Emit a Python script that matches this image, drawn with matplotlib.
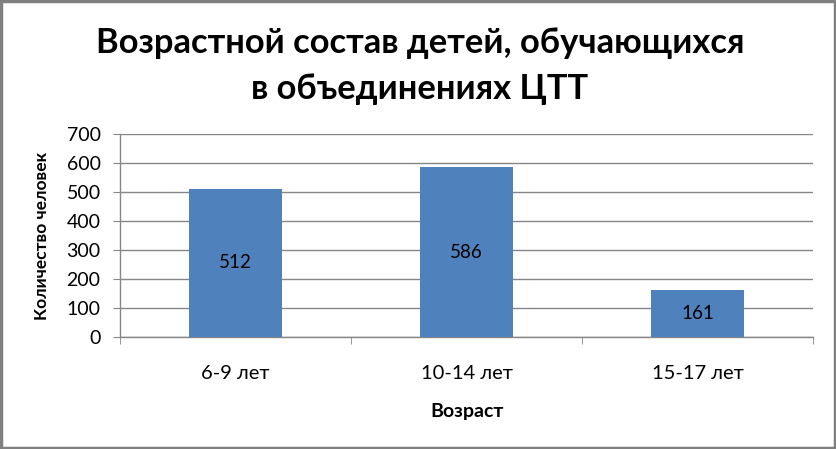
import matplotlib
matplotlib.use("Agg")
import matplotlib.pyplot as plt
from matplotlib.patches import Rectangle

categories = ["6-9 лет", "10-14 лет", "15-17 лет"]
values = [512, 586, 161]
yticks = [0, 100, 200, 300, 400, 500, 600, 700]
title = "Возрастной состав детей, обучающихся\nв объединениях ЦТТ"

plt.rcParams['font.family'] = ['Lato', 'DejaVu Sans']

W, H = 837, 449
fig = plt.figure(figsize=(W / 100, H / 100), dpi=100)
fig.patch.set_facecolor('white')

ax = fig.add_axes([120 / W, 1 - 337 / H, (813 - 120) / W, (337 - 134) / H])
x = list(range(len(categories)))
bars = ax.bar(x, values, width=0.40, color='#4F81BD', zorder=3)
ax.set_xlim(-0.5, len(categories) - 0.5)
ax.set_ylim(0, 700)
ax.set_yticks(yticks)
ax.set_yticklabels([str(v) for v in yticks], fontsize=14)
ax.set_xticks(x)
ax.set_xticklabels(categories, fontsize=14.5)
ax.tick_params(axis='x', length=0, pad=20)
ax.tick_params(axis='y', length=5, color='#868686', pad=9)
# category boundary ticks
ax.set_xticks([-0.5, 0.5, 1.5, 2.5], minor=True)
ax.tick_params(axis='x', which='minor', length=5, color='#868686')
ax.grid(axis='y', color='#868686', linewidth=1, zorder=0)
for s in ['top', 'right']:
    ax.spines[s].set_visible(False)
for s in ['left', 'bottom']:
    ax.spines[s].set_color('#868686')
    ax.spines[s].set_linewidth(1)

for xi, v in zip(x, values):
    ax.text(xi, v / 2, str(v), ha='center', va='center', fontsize=13.5, zorder=4)

fig.text(420 / W, 1 - 66 / H, title, ha='center', va='center',
         fontsize=24.8, fontweight='bold', linespacing=1.55)
fig.text(42 / W, 1 - 236 / H, "Количество человек", rotation=90,
         ha='center', va='center', fontsize=12.5, fontweight='bold')
fig.text(467 / W, 1 - 411 / H, "Возраст", ha='center', va='center',
         fontsize=14, fontweight='bold')

fig.patches.append(Rectangle((0.0015, 0.002), 0.996, 0.995, transform=fig.transFigure,
                             fill=False, edgecolor='#808080', linewidth=2.5))

fig.savefig("out.png", dpi=100, facecolor='white')
